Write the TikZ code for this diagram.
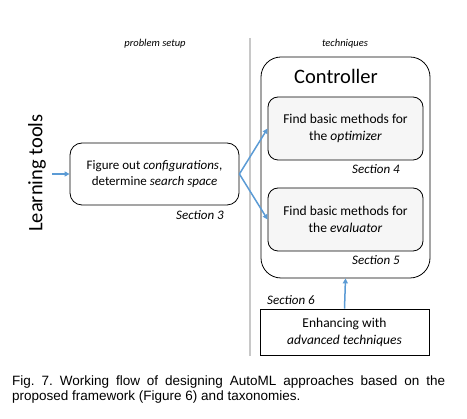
\documentclass[tikz,border=0pt]{standalone}
\usepackage{fontspec}
\setmainfont{Carlito}
\newfontfamily\capfont{Liberation Sans}
\usetikzlibrary{arrows.meta}
\definecolor{arrblue}{HTML}{5B9BD5}
\definecolor{divgray}{HTML}{C8C8C8}
\definecolor{boxfill}{HTML}{F6F6F6}
\tikzset{
  flowbox/.style={draw=black, line width=0.8pt, rounded corners=12pt, align=center, inner sep=0pt, font=\fontsize{13}{16}\selectfont},
  innerbox/.style={draw=black, line width=0.8pt, fill=boxfill, rounded corners=10pt, align=center, inner sep=0pt, minimum width=155pt, minimum height=63pt, font=\fontsize{13.5}{16.5}\selectfont},
  seclabel/.style={font=\fontsize{13}{15}\selectfont\itshape, inner sep=0pt},
  headlabel/.style={font=\fontsize{10.5}{12}\selectfont\itshape, inner sep=0pt},
  flowarrow/.style={draw=arrblue, line width=1.5pt, -{Triangle[length=5pt,width=5pt]}},
}
\begin{document}
\begin{tikzpicture}[x=1pt,y=-1pt]
\useasboundingbox (0,0) rectangle (467,419);
% divider
\draw[divgray, line width=1.8pt] (250,38) -- (250,356);
% headings
\node[headlabel] (hps) at (155,44) {problem setup};
\node[headlabel] (htq) at (345,44) {techniques};
% learning tools
\node[rotate=90, font=\fontsize{20.5}{24}\selectfont, inner sep=0pt] (lt) at (37,173) {Learning tools};
% figure out box
\node[flowbox, minimum width=169pt, minimum height=62pt] (fig) at (154.5,174) {Figure out \textit{configurations},\\determine \textit{search space}};
\node[seclabel] (s3) at (200,215) {Section 3};
% controller
\node[draw=black, line width=0.8pt, rounded corners=20pt, minimum width=169pt, minimum height=221pt, inner sep=0pt] (ctrl) at (345.5,167.5) {};
\node[font=\fontsize{20.5}{24}\selectfont, inner sep=0pt] (ctl) at (336,76) {Controller};
\node[innerbox] (opt) at (345.5,128.5) {Find basic methods for\\the \textit{optimizer}};
\node[seclabel] (s4) at (376,169) {Section 4};
\node[innerbox] (eval) at (345.5,219.5) {Find basic methods for\\the \textit{evaluator}};
\node[seclabel] (s5) at (376,260) {Section 5};
% enhancing
\node[draw=black, line width=0.8pt, minimum width=169pt, minimum height=46pt, inner sep=0pt, align=center, font=\fontsize{13.5}{17}\selectfont] (enh) at (344.5,332) {Enhancing with\\\textit{advanced techniques}};
\node[seclabel] (s6) at (291,300) {Section 6};
% arrows
\coordinate (inp) at (52,174);
\draw[flowarrow] (inp) -- (fig.west);
\draw[flowarrow] (fig.east) -- (opt.west);
\draw[flowarrow] (fig.east) -- (eval.west);
\draw[flowarrow] (enh.north) -- (ctrl.south);
% caption
\node[anchor=north west, text width=433pt, align=justify, inner sep=0pt, font=\capfont\fontsize{13.5}{15}\selectfont] (cap) at (12,376) {\frenchspacing Fig. 7. Working flow of designing AutoML approaches based on the\linebreak proposed framework (Figure 6) and taxonomies.};
\end{tikzpicture}
\end{document}
